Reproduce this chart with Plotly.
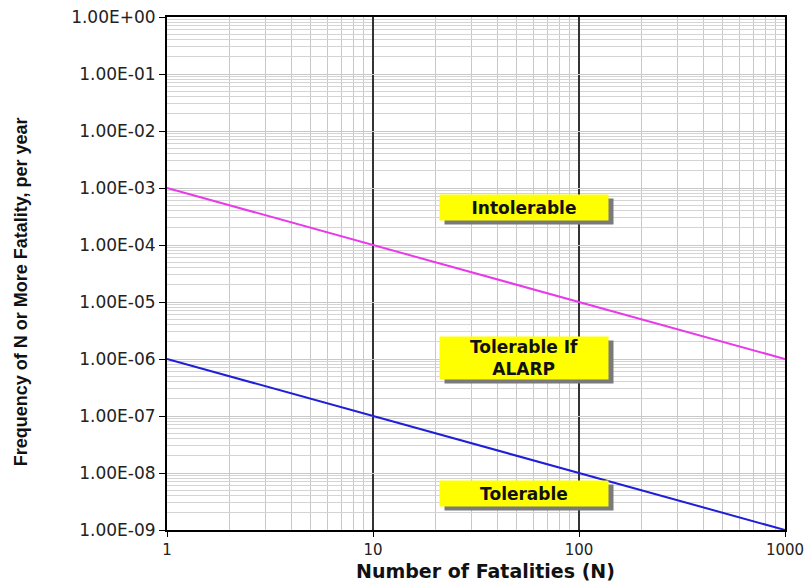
import math
import plotly.graph_objects as go

# Data
fatalities = [1, 1000]
intolerable_limit = [1e-3, 1e-6]
tolerable_limit = [1e-6, 1e-9]

x_tick_vals = [1, 10, 100, 1000]
x_tick_text = ["1", "10", "100", "1000"]
y_tick_vals = [1e0, 1e-1, 1e-2, 1e-3, 1e-4, 1e-5, 1e-6, 1e-7, 1e-8, 1e-9]
y_tick_text = ["1.00E+00", "1.00E-01", "1.00E-02", "1.00E-03", "1.00E-04",
               "1.00E-05", "1.00E-06", "1.00E-07", "1.00E-08", "1.00E-09"]

x_title = "Number of Fatalities (N)"
y_title = "Frequency of N or More Fatality, per year"

region_labels = ["Intolerable", "Tolerable If<br>ALARP", "Tolerable"]
region_x = [54, 54, 54]
region_y = [4.6e-4, 1.05e-6, 4.4e-9]
region_h = [25, 42, 25]
box_w = 168

x_minor = [m * 10 ** d for d in range(0, 3) for m in range(2, 10)]
y_minor = [m * 10.0 ** d for d in range(-9, 0) for m in range(2, 10)]

fig = go.Figure()
fig.add_trace(go.Scatter(x=fatalities, y=intolerable_limit, mode="lines",
                         line=dict(color="#e93ae9", width=2), showlegend=False))
fig.add_trace(go.Scatter(x=fatalities, y=tolerable_limit, mode="lines",
                         line=dict(color="#1f1fd8", width=2), showlegend=False))

fig.update_xaxes(type="log", range=[0, 3], tickvals=x_tick_vals, ticktext=x_tick_text,
                 showgrid=True, gridcolor="#333", gridwidth=1.5,
                 minor=dict(tickvals=x_minor, showgrid=True, gridcolor="#c8c8c8", gridwidth=1, ticks=""),
                 showline=True, linecolor="black", linewidth=2, mirror=True,
                 ticks="outside", ticklen=5, tickcolor="black",
                 tickfont=dict(family="DejaVu Sans", size=15, color="#222"),
                 zeroline=False, automargin=False)
fig.update_yaxes(type="log", range=[-9, 0], tickvals=y_tick_vals, ticktext=y_tick_text,
                 showgrid=True, gridcolor="#c8c8c8", gridwidth=1,
                 minor=dict(tickvals=y_minor, showgrid=True, gridcolor="#d4d4d4", gridwidth=1, ticks=""),
                 showline=True, linecolor="black", linewidth=2, mirror=True,
                 ticks="outside", ticklen=6, tickcolor="black",
                 tickfont=dict(family="DejaVu Sans", size=17, color="#222"),
                 zeroline=False, automargin=False)

# axis titles
fig.add_annotation(xref="paper", yref="paper", x=0.5155, y=-0.08, text="<b>" + x_title + "</b>",
                   showarrow=False, xanchor="center", yanchor="middle",
                   font=dict(family="DejaVu Sans", size=19, color="#111"))
fig.add_annotation(xref="paper", yref="paper", x=-0.235, y=0.465, text="<b>" + y_title + "</b>",
                   showarrow=False, xanchor="center", yanchor="middle", textangle=-90,
                   font=dict(family="Liberation Sans Narrow, Liberation Sans", size=18, color="#111"))

for lab, xv, yv, h in zip(region_labels, region_x, region_y, region_h):
    lx, ly = math.log10(xv), math.log10(yv)
    # drop shadow
    fig.add_annotation(x=lx, y=ly, xref="x", yref="y", text=" ", showarrow=False,
                       xshift=5, yshift=-4, width=box_w, height=h, borderpad=0,
                       bgcolor="#7a7a7a", font=dict(size=4))
    # yellow label box
    fig.add_annotation(x=lx, y=ly, xref="x", yref="y", text="<b>" + lab + "</b>", showarrow=False,
                       width=box_w - 4, height=h - 4, borderpad=2, bgcolor="#ffff00",
                       font=dict(family="DejaVu Sans", size=17, color="#111"))

fig.update_layout(width=812, height=582, plot_bgcolor="white", paper_bgcolor="white",
                  margin=dict(l=167, r=27, t=17, b=52))
fig.write_html("out.html", config={"displayModeBar": False},
               post_script="document.body.style.margin='0';")
